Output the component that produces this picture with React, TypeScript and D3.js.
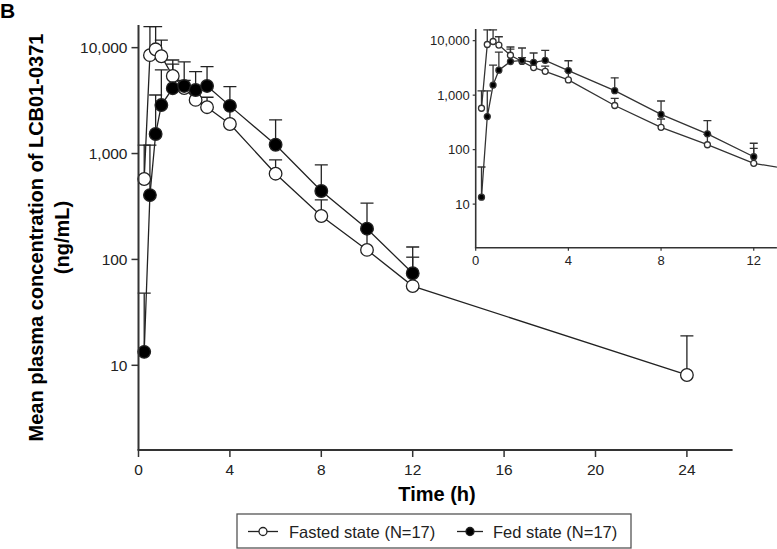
import React from "react";
import * as d3 from "d3";

const times = [0.25, 0.5, 0.75, 1, 1.5, 2, 2.5, 3, 4, 6, 8, 10, 12, 24];
const fastedMean = [575, 8500, 9650, 8300, 5400, 4150, 3210, 2740, 1900, 645, 257, 123, 56, 8.1];
const fastedUpper = [1200, 15800, 15800, 11800, 7650, 4900, 4000, 3400, 2750, 870, 365, 190, 105, 19];
const fedTimes = [0.25, 0.5, 0.75, 1, 1.5, 2, 2.5, 3, 4, 6, 8, 10, 12];
const fedMean = [13.4, 405, 1530, 2870, 4140, 4350, 3980, 4350, 2820, 1210, 443, 195, 74];
const fedUpper = [48, 1200, 3570, 6160, 7000, 7330, 5940, 6610, 4280, 2080, 780, 340, 131];

const yTicks = [10, 100, 1000, 10000];
const mainXTicks = [0, 4, 8, 12, 16, 20, 24];
const insetXTicks = [0, 4, 8, 12];
const legendLabels = ["Fasted state (N=17)", "Fed state (N=17)"];

const FONT = "'Liberation Sans', Arial, Helvetica, sans-serif";
const fmt = d3.format(",");

type Pt = { t: number; v: number; u: number };

function Panel(props: {
  x: d3.ScaleLinear<number, number>;
  y: d3.ScaleLogarithmic<number, number>;
  xTicks: number[];
  r: number;
  cap: number;
  sw: number;
  axisW: number;
  tickLen: number;
  yLabelGap: number;
  fontSize: number;
  xLabelDy: number;
  color: string;
  clipId: string;
}) {
  const { x, y, xTicks, r, cap, sw, axisW, tickLen, yLabelGap, fontSize, xLabelDy, color, clipId } = props;
  const fasted: Pt[] = times.map((t, i) => ({ t, v: fastedMean[i], u: fastedUpper[i] }));
  const fed: Pt[] = fedTimes.map((t, i) => ({ t, v: fedMean[i], u: fedUpper[i] }));
  const line = d3.line<Pt>().x((d) => x(d.t)).y((d) => y(d.v));
  const [x0, x1] = x.range();
  const [y0, y1] = y.range();
  const visible = (d: Pt) => d.t <= x.domain()[1];
  const bars = (data: Pt[], key: string) =>
    data.filter(visible).map((d, i) => (
      <g key={key + i} stroke={color} strokeWidth={sw}>
        <line x1={x(d.t)} x2={x(d.t)} y1={y(d.v)} y2={y(d.u)} />
        <line x1={x(d.t) - cap} x2={x(d.t) + cap} y1={y(d.u)} y2={y(d.u)} />
      </g>
    ));
  return (
    <g>
      <defs>
        <clipPath id={clipId}>
          <rect x={x0 - 10} y={y1 - 10} width={x1 - x0 + 10} height={y0 - y1 + 10} />
        </clipPath>
      </defs>
      <g clipPath={`url(#${clipId})`}>
        {bars(fasted, "fb")}
        {bars(fed, "db")}
        <path d={line(fasted) || ""} fill="none" stroke={color} strokeWidth={sw} />
        <path d={line(fed) || ""} fill="none" stroke={color} strokeWidth={sw} />
        {fasted.filter(visible).map((d, i) => (
          <circle key={"fc" + i} cx={x(d.t)} cy={y(d.v)} r={r} fill="#fff" stroke={color} strokeWidth={sw} />
        ))}
        {fed.filter(visible).map((d, i) => (
          <circle key={"dc" + i} cx={x(d.t)} cy={y(d.v)} r={r} fill="#000" stroke={color} strokeWidth={sw} />
        ))}
      </g>
      {/* axes */}
      <line x1={x0} x2={x0} y1={y0} y2={y1} stroke="#333" strokeWidth={axisW} />
      <line x1={x0 - axisW / 2} x2={x1} y1={y0} y2={y0} stroke="#333" strokeWidth={axisW} />
      {yTicks.map((t) => (
        <g key={"yt" + t}>
          <line x1={x0 - tickLen} x2={x0} y1={y(t)} y2={y(t)} stroke="#333" strokeWidth={axisW * 0.75} />
          <text x={x0 - tickLen - yLabelGap} y={y(t)} dy="0.35em" textAnchor="end" fontSize={fontSize} fontFamily={FONT} fill="#222">
            {fmt(t)}
          </text>
        </g>
      ))}
      {xTicks.map((t) => (
        <g key={"xt" + t}>
          <line x1={x(t)} x2={x(t)} y1={y0} y2={y0 + tickLen} stroke="#333" strokeWidth={axisW * 0.75} />
          <text x={x(t)} y={y0 + xLabelDy} textAnchor="middle" fontSize={fontSize} fontFamily={FONT} fill="#222">
            {t}
          </text>
        </g>
      ))}
    </g>
  );
}

export default function App() {
  const yDomain: [number, number] = [Math.pow(10, 0.2), Math.pow(10, 4.214)];
  const xMain = d3.scaleLinear().domain([0, 26]).range([138.5, 138.5 + 26 * 22.85]);
  const yMain = d3.scaleLog().domain(yDomain).range([450, 25]);
  const xIn = d3.scaleLinear().domain([0, 13]).range([475.7, 475.7 + 13 * 23.17]);
  const yIn = d3.scaleLog().domain(yDomain).range([247.7, 29]);

  return (
    <svg width={777} height={549} style={{ display: "block", position: "absolute", left: 0, top: 0 }}>
      <rect width={777} height={549} fill="#fff" />
      <text x={0} y={18} fontSize={21} fontWeight="bold" fontFamily={FONT} fill="#000">B</text>
      <Panel x={xMain} y={yMain} xTicks={mainXTicks} r={6.3} cap={6.5} sw={1.3} axisW={2} tickLen={7}
        yLabelGap={4} fontSize={15.5} xLabelDy={25} color="#222" clipId="clipMain" />
      <Panel x={xIn} y={yIn} xTicks={insetXTicks} r={3} cap={4} sw={1.3} axisW={1.6} tickLen={3}
        yLabelGap={3} fontSize={13} xLabelDy={17.5} color="#333" clipId="clipInset" />
      {/* axis titles */}
      <g transform="translate(43.3,237.5) rotate(-90)">
        <text textAnchor="middle" fontSize={20} fontWeight="bold" fontFamily={FONT} fill="#000">
          Mean plasma concentration of LCB01-0371
        </text>
      </g>
      <g transform="translate(68.5,237.5) rotate(-90)">
        <text textAnchor="middle" fontSize={20} fontWeight="bold" fontFamily={FONT} fill="#000">
          (ng/mL)
        </text>
      </g>
      <text x={437} y={501} textAnchor="middle" fontSize={20} fontWeight="bold" fontFamily={FONT} fill="#000">
        Time (h)
      </text>
      {/* legend */}
      <rect x={237} y={514} width={394} height={34} fill="#fff" stroke="#555" strokeWidth={1.3} />
      <line x1={248} x2={278} y1={531.5} y2={531.5} stroke="#222" strokeWidth={1.3} />
      <circle cx={263} cy={531.5} r={4} fill="#fff" stroke="#222" strokeWidth={1.3} />
      <text x={289} y={538.3} fontSize={16.5} fontFamily={FONT} fill="#222">{legendLabels[0]}</text>
      <line x1={457} x2={483} y1={531.5} y2={531.5} stroke="#222" strokeWidth={1.3} />
      <circle cx={470} cy={531.5} r={4} fill="#000" stroke="#222" strokeWidth={1.3} />
      <text x={493} y={538.3} fontSize={16.5} fontFamily={FONT} fill="#222">{legendLabels[1]}</text>
    </svg>
  );
}
